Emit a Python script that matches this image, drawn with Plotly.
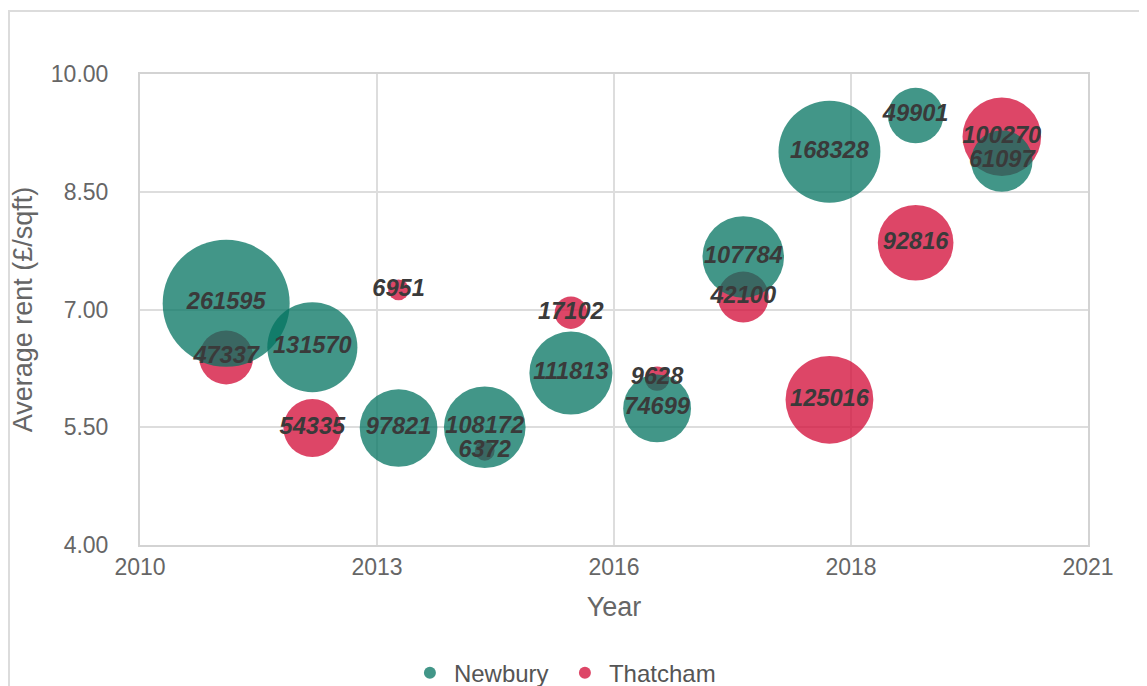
import plotly.graph_objects as go

years = [2011, 2012, 2013, 2014, 2015, 2016, 2017, 2018, 2019, 2020]

newbury_rent = [7.08, 6.52, 5.49, 5.50, 6.19, 5.74, 7.67, 9.01, 9.47, 8.89]
newbury_size = [261595, 131570, 97821, 108172, 111813, 74699, 107784, 168328, 49901, 61097]

thatcham_rent = [6.39, 5.49, 7.25, 5.20, 6.96, 6.12, 7.16, 5.85, 7.85, 9.20]
thatcham_size = [47337, 54335, 6951, 6372, 17102, 9628, 42100, 125016, 92816, 100270]

x_range = [2010, 2021]
y_range = [4, 10]

NEWBURY_COLOR = "rgb(3,115,96)"
THATCHAM_COLOR = "rgb(210,8,52)"
FONT = "Liberation Sans, Arial, sans-serif"

max_size = max(newbury_size + thatcham_size)
sizeref = 2.0 * max_size / (127 ** 2)

fig = go.Figure()

# Thatcham markers first (drawn underneath), Newbury on top
fig.add_trace(go.Scatter(
    x=years, y=thatcham_rent, mode="markers", name="Thatcham",
    legendrank=2,
    marker=dict(size=thatcham_size, sizemode="area", sizeref=sizeref,
                color=THATCHAM_COLOR, opacity=0.75, line=dict(width=0)),
))
fig.add_trace(go.Scatter(
    x=years, y=newbury_rent, mode="markers", name="Newbury",
    legendrank=1,
    marker=dict(size=newbury_size, sizemode="area", sizeref=sizeref,
                color=NEWBURY_COLOR, opacity=0.75, line=dict(width=0)),
))

label_font = dict(family=FONT, size=23.6, color="#3a3a3a", weight="bold", style="italic")
fig.add_trace(go.Scatter(
    x=years, y=thatcham_rent, mode="text", text=[str(v) for v in thatcham_size],
    textposition="middle center", textfont=label_font, showlegend=False, hoverinfo="skip",
))
fig.add_trace(go.Scatter(
    x=years, y=newbury_rent, mode="text", text=[str(v) for v in newbury_size],
    textposition="middle center", textfont=label_font, showlegend=False, hoverinfo="skip",
))

fig.update_layout(
    width=1139, height=678,
    margin=dict(l=132, r=59, t=66, b=141, autoexpand=False),
    paper_bgcolor="white", plot_bgcolor="white",
    font=dict(family=FONT, color="#666666"),
    legend=dict(orientation="h", x=0.444, xanchor="center", y=-0.272, yanchor="middle",
                font=dict(size=24, color="#555555"), itemsizing="constant",
                itemwidth=38, entrywidth=102, entrywidthmode="pixels",
                bgcolor="rgba(0,0,0,0)"),
    shapes=[dict(type="rect", xref="paper", yref="paper",
                 x0=-0.1382, x1=1.3, y0=-0.5, y1=1.1338,
                 line=dict(color="#dcdcdc", width=2), fillcolor="rgba(0,0,0,0)", layer="below")],
)

fig.update_xaxes(
    range=x_range, tick0=2010, dtick=2.75, tickformat=".0f",
    showgrid=True, gridcolor="#dddddd", gridwidth=2,
    showline=True, linecolor="#d3d3d3", linewidth=2, mirror=True,
    zeroline=False, ticks="", ticklabelstandoff=0,
    tickfont=dict(size=23, color="#666666"),
    title=dict(text="Year", font=dict(size=27, color="#666666"), standoff=19),
)
fig.update_yaxes(
    range=y_range, tick0=4, dtick=1.5, tickformat=".2f",
    showgrid=True, gridcolor="#dddddd", gridwidth=2,
    showline=True, linecolor="#d3d3d3", linewidth=2, mirror=True,
    zeroline=False, ticks="", ticklabelstandoff=25,
    tickfont=dict(size=23, color="#666666"),
    title=dict(text="Average rent (£/sqft)", font=dict(size=27, color="#666666"), standoff=14),
)

fig.write_html("out.html")
